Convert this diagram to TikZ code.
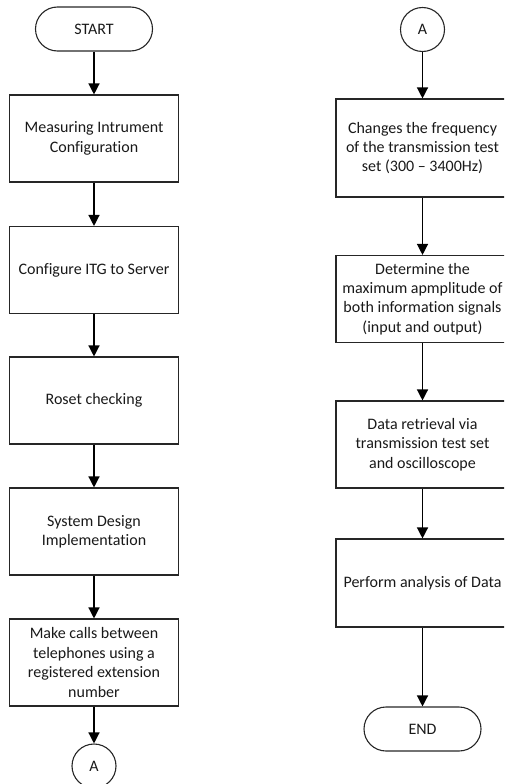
\documentclass[tikz,border=0pt]{standalone}
\usepackage{fontspec}
\setmainfont[Ligatures={TeX,NoCommon}]{Carlito}
\usetikzlibrary{arrows.meta}

\begin{document}
\begin{tikzpicture}[x=1pt,y=-1pt,font=\fontsize{16}{19.4}\selectfont,
  proc/.style={draw=black!85,line width=1.1pt,minimum width=169pt,minimum height=87pt,align=center,inner sep=0pt,text=black!90},
  term/.style={draw=black!85,line width=1.1pt,rounded corners=22pt,minimum width=117pt,minimum height=44pt,inner sep=0pt,text=black!90},
  conn/.style={draw=black!85,circle,line width=1.1pt,minimum size=44pt,inner sep=0pt,text=black!90},
  arr/.style={-{Triangle[width=11pt,length=11pt]},line width=1.3pt}]
\useasboundingbox (0,0) rectangle (504,784);
\clip (0,0) rectangle (504,784);
% left column
\node[term] (start) at (94,29) {START};
\node[proc] (b1) at (94,138.5) {Measuring Intrument\\Configuration};
\node[proc] (b2) at (94,270) {Configure ITG to Server};
\node[proc] (b3) at (94,400.5) {Roset checking};
\node[proc] (b4) at (94,531.5) {System Design\\Implementation};
\node[proc] (b5) at (94,662.5) {Make calls between\\telephones using a\\registered extension\\number};
\node[conn] (al) at (94,766) {A};
% right column (boxes run past the page edge)
\node[conn] (ar) at (422.5,29.5) {A};
\node[proc,minimum width=173pt,minimum height=98pt] (r1) at (422.5,148) {Changes the frequency\\of the transmission test\\set (300 -- 3400Hz)};
\node[proc,minimum width=173pt] (r2) at (422.5,299) {Determine the\\maximum apmplitude of\\both information signals\\(input and output)};
\node[proc,minimum width=173pt] (r3) at (422.5,444.5) {Data retrieval via\\transmission test set\\and oscilloscope};
\node[proc,minimum width=173pt,minimum height=88pt] (r4) at (422.5,583) {Perform analysis of Data};
\node[term] (stop) at (422.5,729) {END};
\foreach \a/\b in {start/b1,b1/b2,b2/b3,b3/b4,b4/b5,b5/al,ar/r1,r1/r2,r2/r3,r3/r4,r4/stop}
  \draw[arr] (\a) -- (\b);
\end{tikzpicture}
\end{document}
